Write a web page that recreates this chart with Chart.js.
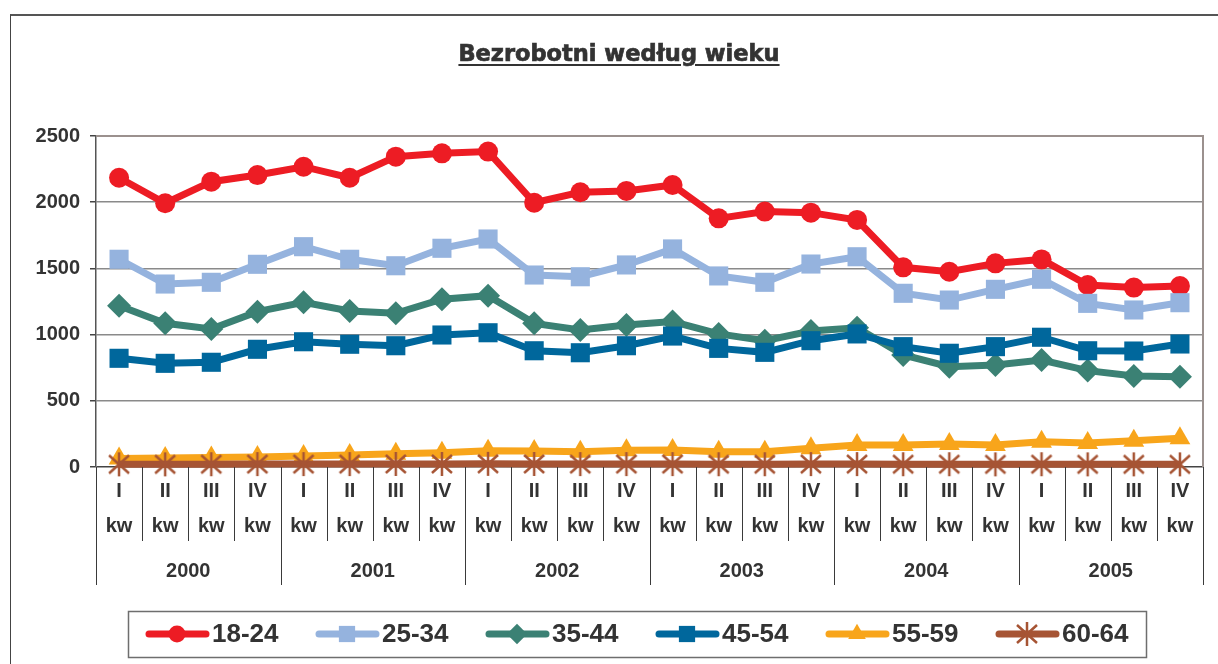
<!DOCTYPE html>
<html lang="pl">
<head>
<meta charset="utf-8">
<title>Bezrobotni według wieku</title>
<script src="https://cdn.jsdelivr.net/npm/chart.js@4.4.1/dist/chart.umd.min.js"></script>
<style>
    html, body { margin: 0; padding: 0; background: #fff; }
    #wrap { position: relative; width: 1218px; height: 664px; overflow: hidden; }
    #frame { position: absolute; left: 10px; top: 14px; right: -10px; bottom: -10px;
             border-left: 1.5px solid #444; border-top: 2px solid #555; }
    #title { position: absolute; left: 619px; top: 40px; transform: translateX(-50%);
             font: bold 22.5px "DejaVu Sans", sans-serif; line-height: 26px; color: #333;
             -webkit-text-stroke: 0.7px #333;
             text-decoration: underline; text-decoration-thickness: 2px; text-underline-offset: 3px;
             white-space: nowrap; }
    canvas { position: absolute; left: 0; top: 0; }
</style>
</head>
<body>
<div id="wrap">
    <div id="frame"></div>
    <canvas id="chart" width="1218" height="664"></canvas>
    <div id="title">Bezrobotni według wieku</div>
</div>
<script>
// Categories
const years = ['2000', '2001', '2002', '2003', '2004', '2005'];
const quarters = ['I', 'II', 'III', 'IV'];
const quarterLabels = years.flatMap(() => quarters.map(q => [q, 'kw']));

// Series
const s18_24 = [2185, 1992, 2155, 2205, 2268, 2185, 2344, 2369, 2382, 1996, 2075, 2085,
                2130, 1878, 1929, 1921, 1866, 1508, 1475, 1538, 1568, 1375, 1355, 1367];
const s25_34 = [1569, 1382, 1395, 1531, 1664, 1569, 1520, 1652, 1722, 1450, 1437, 1526,
                1647, 1443, 1395, 1533, 1588, 1312, 1261, 1342, 1418, 1236, 1186, 1241];
const s35_44 = [1218, 1085, 1042, 1173, 1244, 1178, 1161, 1267, 1294, 1085, 1035, 1072,
                1098, 1005, 954, 1027, 1052, 846, 758, 770, 808, 728, 687, 682];
const s45_54 = [821, 783, 791, 889, 946, 927, 916, 997, 1014, 878, 863, 916,
                989, 896, 866, 954, 1005, 909, 859, 909, 980, 878, 876, 929];
const s55_59 = [65, 68, 72, 76, 84, 90, 100, 108, 123, 120, 115, 127,
                128, 116, 116, 141, 166, 166, 174, 166, 191, 182, 199, 217];
const s60_64 = [20, 20, 21, 22, 22, 22, 23, 23, 24, 23, 22, 22,
                22, 21, 21, 22, 22, 21, 21, 20, 21, 20, 20, 20];

// Y axis ticks
const yTicks = [0, 500, 1000, 1500, 2000, 2500];

const FONT = '"Liberation Sans", Arial, sans-serif';
const TEXT = '#333333';

// Asterisk marker (6 arms) for the last series
function makeAsterisk(color) {
    const c = document.createElement('canvas');
    c.width = 24; c.height = 26;
    const g = c.getContext('2d');
    g.strokeStyle = color;
    g.lineWidth = 2.5;
    g.beginPath();
    g.moveTo(12, 1); g.lineTo(12, 25);
    g.moveTo(2, 4); g.lineTo(22, 22);
    g.moveTo(22, 4); g.lineTo(2, 22);
    g.stroke();
    return c;
}

const series = [
    { label: '18-24', data: s18_24, color: '#ED1C24', style: 'circle', radius: 10 },
    { label: '25-34', data: s25_34, color: '#95B3DE', style: 'rect', radius: 13.5 },
    { label: '35-44', data: s35_44, color: '#3B8174', style: 'rectRot', radius: 12 },
    { label: '45-54', data: s45_54, color: '#00679C', style: 'rect', radius: 13.5 },
    { label: '55-59', data: s55_59, color: '#F8A51B', style: 'triangle', radius: 12 },
    { label: '60-64', data: s60_64, color: '#A65434', style: makeAsterisk('#A65434'), radius: 11 }
];

// Plot border (top and right)
const plotBorder = {
    id: 'plotBorder',
    beforeDatasetsDraw(chart) {
        const { ctx, chartArea: a } = chart;
        ctx.save();
        ctx.strokeStyle = '#9b918e';
        ctx.lineWidth = 2;
        ctx.beginPath();
        ctx.moveTo(a.left, a.top);
        ctx.lineTo(a.right, a.top);
        ctx.lineTo(a.right, a.bottom);
        ctx.stroke();
        ctx.restore();
    }
};

// Separators between quarter / year labels
const axisLines = {
    id: 'axisLines',
    afterDraw(chart) {
        const { ctx, chartArea: a, scales: { x, x2 } } = chart;
        const n = quarterLabels.length;
        ctx.save();
        ctx.strokeStyle = '#3a3a3a';
        ctx.lineWidth = 1;
        for (let i = 0; i <= n; i++) {
            let px;
            if (i === 0) px = a.left;
            else if (i === n) px = a.right;
            else px = (x.getPixelForValue(i - 1) + x.getPixelForValue(i)) / 2;
            px = Math.round(px) + 0.5;
            const bottom = i % 4 === 0 ? x2.bottom : x.bottom - 3;
            ctx.beginPath();
            ctx.moveTo(px, a.bottom);
            ctx.lineTo(px, bottom);
            ctx.stroke();
        }
        ctx.restore();
    }
};

// Legend in a box with line + marker samples
const legendBox = {
    id: 'legendBox',
    afterDraw(chart) {
        const ctx = chart.ctx;
        const y = 634;
        ctx.save();
        ctx.strokeStyle = '#6e6e6e';
        ctx.lineWidth = 1.5;
        ctx.strokeRect(128.5, 611.5, 1018, 46);
        chart.data.datasets.forEach((ds, i) => {
            const x0 = 146 + i * 170;
            ctx.strokeStyle = ds.borderColor;
            ctx.lineWidth = 7;
            ctx.lineCap = 'round';
            ctx.beginPath();
            ctx.moveTo(x0 + 3, y);
            ctx.lineTo(x0 + 60, y);
            ctx.stroke();
            ctx.fillStyle = ds.pointBackgroundColor;
            ctx.strokeStyle = ds.pointBorderColor;
            ctx.lineWidth = ds.pointBorderWidth;
            Chart.helpers.drawPoint(ctx, {
                pointStyle: ds.pointStyle,
                radius: ds.pointRadius * 0.85,
                rotation: 0,
                borderWidth: ds.pointBorderWidth
            }, x0 + 31, y);
            ctx.fillStyle = TEXT;
            ctx.font = 'bold 26px ' + FONT;
            ctx.textAlign = 'left';
            ctx.textBaseline = 'middle';
            ctx.fillText(ds.label, x0 + 66, y + 1);
        });
        ctx.restore();
    }
};

new Chart(document.getElementById('chart'), {
    type: 'line',
    data: {
        labels: quarterLabels,
        datasets: series.map((s, i) => ({
            label: s.label,
            data: s.data,
            borderColor: s.color,
            backgroundColor: s.color,
            borderWidth: 7,
            pointStyle: s.style,
            pointRadius: s.radius,
            pointBackgroundColor: s.color,
            pointBorderColor: s.color,
            pointBorderWidth: 0,
            tension: 0,
            clip: false,
            order: series.length - i
        }))
    },
    options: {
        responsive: false,
        animation: false,
        layout: { padding: { top: 136, left: 0, right: 15, bottom: 79 } },
        plugins: {
            legend: { display: false },
            tooltip: { enabled: false },
            title: { display: false }
        },
        scales: {
            x: {
                type: 'category',
                offset: true,
                weight: 0,
                grid: { display: false, drawTicks: false },
                border: { display: false },
                ticks: {
                    color: TEXT,
                    font: { family: FONT, size: 20, weight: 'bold', lineHeight: 1.75 },
                    padding: 7,
                    maxRotation: 0,
                    autoSkip: false
                },
                afterFit: s => { s.height = 77; }
            },
            x2: {
                type: 'category',
                labels: years,
                position: 'bottom',
                offset: true,
                weight: 1,
                grid: { display: false, drawTicks: false },
                border: { display: false },
                ticks: {
                    color: TEXT,
                    font: { family: FONT, size: 20, weight: 'bold', lineHeight: 1.2 },
                    padding: 15,
                    maxRotation: 0,
                    autoSkip: false
                },
                afterFit: s => { s.height = 41; }
            },
            y: {
                min: yTicks[0],
                max: yTicks[yTicks.length - 1],
                afterBuildTicks: s => { s.ticks = yTicks.map(v => ({ value: v })); },
                ticks: {
                    color: TEXT,
                    font: { family: FONT, size: 20, weight: 'bold' },
                    padding: 10,
                    callback: v => String(v)
                },
                grid: {
                    color: c => c.tick.value === 0 ? '#444' : (c.tick.value === 2500 ? 'rgba(0,0,0,0)' : '#8a8a8a'),
                    lineWidth: 1.5,
                    tickLength: 6,
                    tickColor: '#444'
                },
                border: { color: '#555', width: 1.5 },
                afterFit: s => { s.width = 96; }
            }
        }
    },
    plugins: [plotBorder, axisLines, legendBox]
});
</script>
</body>
</html>
